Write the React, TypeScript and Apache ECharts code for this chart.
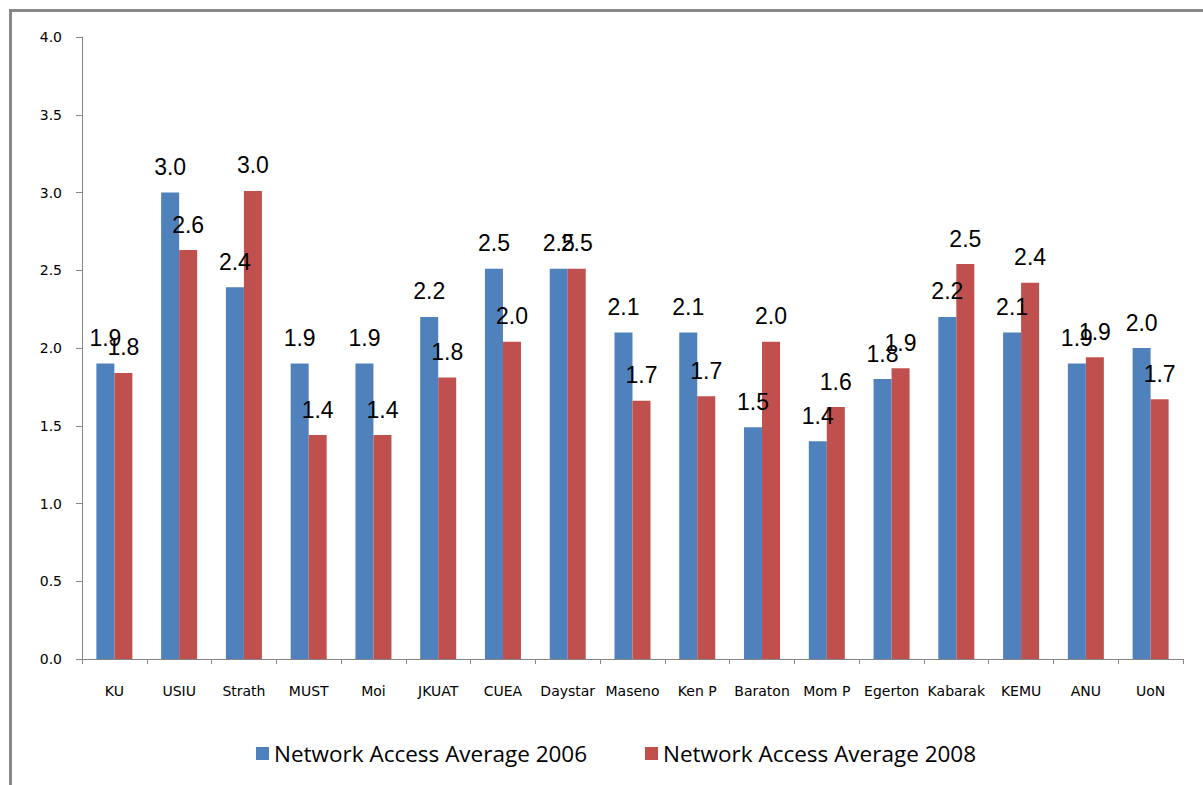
import React, { useEffect, useRef } from "react";
import * as echarts from "echarts";

const categories = ["KU", "USIU", "Strath", "MUST", "Moi", "JKUAT", "CUEA", "Daystar", "Maseno", "Ken P", "Baraton", "Mom P", "Egerton", "Kabarak", "KEMU", "ANU", "UoN"];
const access2006 = [1.9, 3.0, 2.39, 1.9, 1.9, 2.2, 2.51, 2.51, 2.1, 2.1, 1.49, 1.4, 1.8, 2.2, 2.1, 1.9, 2.0];
const access2008 = [1.84, 2.63, 3.01, 1.44, 1.44, 1.81, 2.04, 2.51, 1.66, 1.69, 2.04, 1.62, 1.87, 2.54, 2.42, 1.94, 1.67];
const seriesNames = ["Network Access Average 2006", "Network Access Average 2008"];
const yTicks = { min: 0, max: 4, interval: 0.5 };

export default function App() {
  const ref = useRef<HTMLDivElement>(null);
  useEffect(() => {
    if (!ref.current) return;
    const chart = echarts.init(ref.current, undefined, { renderer: "svg" });
    const labelStyle = {
      show: true,
      position: "top" as const,
      distance: 14,
      fontFamily: "Liberation Sans",
      fontSize: 23,
      color: "#000",
      formatter: (p: any) => Number(p.value).toFixed(1),
    };
    const legendBase = {
      top: 742,
      padding: 0,
      itemWidth: 13,
      itemHeight: 13,
      icon: "rect",
      textStyle: { fontFamily: "Open Sans", fontSize: 22.5, color: "#000" },
    };
    chart.setOption({
      animation: false,
      backgroundColor: "#fff",
      grid: { left: 82, right: 20, top: 37, bottom: 126, containLabel: false },
      legend: [
        { ...legendBase, left: 256, data: [seriesNames[0]] },
        { ...legendBase, left: 645, data: [seriesNames[1]] },
      ],
      xAxis: {
        type: "category",
        data: categories,
        axisLine: { lineStyle: { color: "#868686", width: 1 } },
        axisTick: { show: true, length: 5, lineStyle: { color: "#868686" } },
        axisLabel: { margin: 25, fontFamily: "DejaVu Sans", fontSize: 14, color: "#000", interval: 0 },
      },
      yAxis: {
        type: "value",
        min: yTicks.min,
        max: yTicks.max,
        interval: yTicks.interval,
        axisLine: { show: true, lineStyle: { color: "#868686", width: 1 } },
        axisTick: { show: true, length: 6, lineStyle: { color: "#868686" } },
        splitLine: { show: false },
        axisLabel: {
          margin: 20,
          fontFamily: "DejaVu Sans",
          fontSize: 14,
          color: "#000",
          formatter: (v: number) => v.toFixed(1),
        },
      },
      series: [
        {
          name: seriesNames[0],
          type: "bar",
          data: access2006,
          barWidth: 18,
          barGap: "0%",
          itemStyle: { color: "#4F81BD" },
          label: labelStyle,
        },
        {
          name: seriesNames[1],
          type: "bar",
          data: access2008,
          barWidth: 18,
          barGap: "0%",
          itemStyle: { color: "#C0504D" },
          label: labelStyle,
        },
      ],
      graphic: [
        { type: "line", shape: { x1: 10, y1: 10.5, x2: 1203, y2: 10.5 }, style: { stroke: "#888", lineWidth: 3 } },
        { type: "line", shape: { x1: 10.5, y1: 9, x2: 10.5, y2: 785 }, style: { stroke: "#888", lineWidth: 3 } },
      ],
    });
    return () => chart.dispose();
  }, []);
  return <div ref={ref} style={{ position: "fixed", left: 0, top: 0, width: 1203, height: 785 }} />;
}
